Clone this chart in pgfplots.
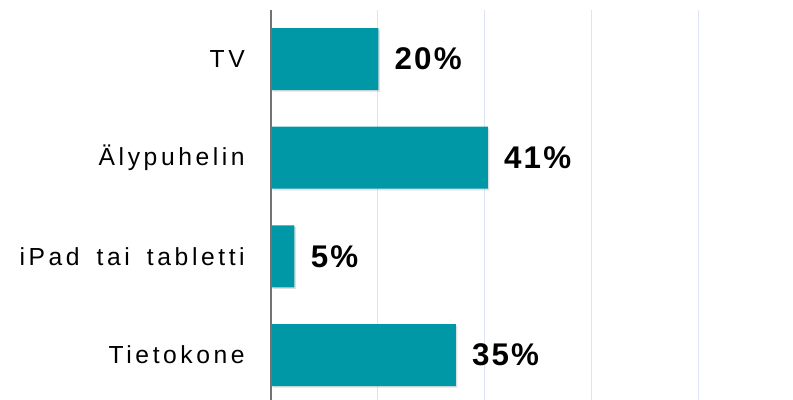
\documentclass[border=0pt]{standalone}
\usepackage{fontspec}
\setmainfont{Liberation Sans}
\newfontfamily\lab[LetterSpace=14.5]{Liberation Sans}
\newfontfamily\val[LetterSpace=7]{Liberation Sans}
\usepackage{pgfplots}
\usepackage{pgfplotstable}
\pgfplotsset{compat=1.18}
\usetikzlibrary{shadows}
\definecolor{barc}{RGB}{0,151,167}
\definecolor{gridc}{RGB}{218,228,242}
\pgfplotstableread{
x y lab
20.1 0 20
40.6 1 41
4.4 2 5
34.6 3 35
}\datatab
\begin{document}
\begin{tikzpicture}
\begin{axis}[
  at={(0,0)}, anchor=south west,
  scale only axis, width=391.5pt, height=292.5pt,
  xbar, bar width=46.5pt,
  xmin=0, xmax=97.75,
  ymin=-0.497, ymax=3.456, y dir=reverse,
  ytick={0,1,2,3},
  yticklabels={TV,Älypuhelin,iPad\hspace{5pt} tai\hspace{5pt} tabletti,Tietokone},
  xtick={20,40,60,80}, xticklabels={},
  xmajorgrids, grid style={gridc, line width=0.9pt},
  major tick length=0pt,
  axis line style={draw=none},
  yticklabel style={font=\lab\fontsize{18.5}{21}\selectfont, anchor=east, inner sep=0pt, xshift=-19.5pt, text=black},
  point meta=explicit symbolic,
  nodes near coords={\pgfplotspointmeta\%},
  nodes near coords style={font=\val\bfseries\fontsize{23.5}{26}\selectfont, anchor=west, inner sep=0pt, xshift=12pt, text=black},
  clip=false,
]
\addplot[fill=barc, draw=none, drop shadow={shadow xshift=1.2pt, shadow yshift=-1.2pt, opacity=0.25}] table[x=x, y=y, meta=lab] {\datatab};
\draw[gray!90!black, line width=0.9pt] (axis cs:0,-0.497) -- (axis cs:0,3.456);
\end{axis}
\pgfresetboundingbox
\path (-203.25pt,0pt) rectangle (391.5pt,300pt);
\end{tikzpicture}
\end{document}
